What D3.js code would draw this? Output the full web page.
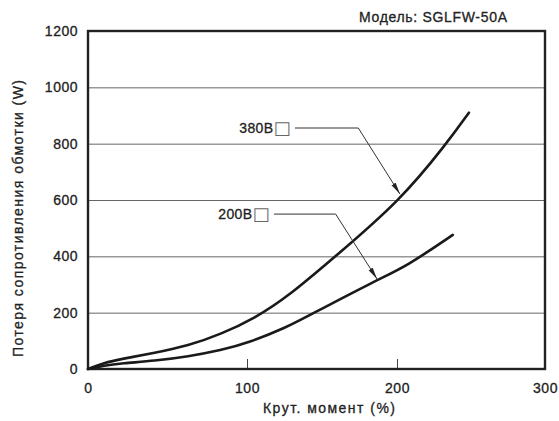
<!DOCTYPE html>
<html>
<head>
<meta charset="utf-8">
<script src="https://cdn.jsdelivr.net/npm/d3@7"></script>
<style>
  body { margin: 0; background: #fff; }
  svg { display: block; }
  text { font-family: "Liberation Sans", Arial, Helvetica, sans-serif; fill: #222; stroke: #222; stroke-width: 0.3px; }
</style>
</head>
<body>
<svg id="chart" width="559" height="421"></svg>
<script>
// Axis ticks
const torqueTicks = [0, 100, 200, 300];
const lossTicks = [0, 200, 400, 600, 800, 1000, 1200];

// Winding resistance loss vs torque, 380 V model
const torque380 = [0, 10, 20.9, 41.9, 62.9, 83.8, 105.1, 127.3, 158.7, 202, 233.6, 248.6];
const loss380   = [0, 22, 35.5, 57, 82, 124, 180, 257, 399, 597, 801, 910];

// Winding resistance loss vs torque, 200 V model
const torque200 = [0, 10, 20.9, 41.9, 62.9, 83.8, 100.6, 127.3, 139.8, 186.5, 206.6, 237.7];
const loss200   = [0, 12, 20, 29, 44, 67, 92, 150, 186, 316, 365, 476];

// Callouts: label, end of label text, leader elbow, arrow tip (data units)
const calloutLabels = ["380В", "200В"];
const calloutMark = "□";
const calloutTextEndX = [129.3, 115.3];
const calloutElbowX = [174.2, 159.1];
const calloutElbowY = [855.6, 550];
const calloutTipX = [202, 186.7];
const calloutTipY = [621, 319.5];

const modelLabel = "Модель: SGLFW-50A";
const xTitle = "Крут. момент (%)";
const yTitle = "Потеря сопротивления обмотки (W)";

const svg = d3.select("#chart");
const plotLeft = 88, plotRight = 545, plotTop = 31, plotBottom = 369;
const fontSize = 14;

const x = d3.scaleLinear().domain(torqueTicks).range([88, 247, 397, 545]);
const y = d3.scaleLinear().domain([0, 1200]).range([plotBottom, plotTop]);

// Horizontal grid + y tick labels
const yAxis = svg.append("g")
  .attr("transform", `translate(${plotLeft},0)`)
  .call(d3.axisLeft(y).tickValues(lossTicks).tickFormat(d3.format("d"))
    .tickSizeInner(-(plotRight - plotLeft)).tickSizeOuter(0).tickPadding(10));
yAxis.select(".domain").remove();
yAxis.selectAll(".tick line").attr("stroke", "#666").attr("stroke-width", 1);
yAxis.selectAll(".tick text").attr("font-size", fontSize).attr("letter-spacing", 0.5)
  .attr("font-family", "Liberation Sans, Arial, sans-serif").attr("fill", "#222");

// Bottom ticks + labels
const xAxis = svg.append("g")
  .attr("transform", `translate(0,${plotBottom})`)
  .call(d3.axisBottom(x).tickValues(torqueTicks).tickFormat(d3.format("d"))
    .tickSizeInner(-10).tickSizeOuter(0).tickPadding(14));
xAxis.select(".domain").remove();
xAxis.selectAll(".tick line").attr("stroke", "#444").attr("stroke-width", 1);
xAxis.selectAll(".tick text").attr("font-size", fontSize).attr("letter-spacing", 0.5)
  .attr("font-family", "Liberation Sans, Arial, sans-serif").attr("fill", "#222");

// Frame
svg.append("rect")
  .attr("x", plotLeft).attr("y", plotTop)
  .attr("width", plotRight - plotLeft).attr("height", plotBottom - plotTop)
  .attr("fill", "none").attr("stroke", "#222").attr("stroke-width", 2.4);

// Curves
const line = d3.line().x(d => x(d[0])).y(d => y(d[1])).curve(d3.curveBasis);
const series = [
  d3.zip(torque380, loss380),
  d3.zip(torque200, loss200)
];
svg.append("g").selectAll("path").data(series).join("path")
  .attr("d", line)
  .attr("fill", "none")
  .attr("stroke", "#1a1a1a")
  .attr("stroke-width", 2.6)
  .attr("stroke-linecap", "round");

// Arrowhead marker
svg.append("defs").append("marker")
  .attr("id", "arrow")
  .attr("markerUnits", "userSpaceOnUse")
  .attr("viewBox", "0 0 12 6")
  .attr("refX", 12).attr("refY", 3)
  .attr("markerWidth", 12).attr("markerHeight", 6)
  .attr("orient", "auto")
  .append("path").attr("d", "M0,0.6 L12,3 L0,5.4 Z").attr("fill", "#222");

// Callouts
calloutLabels.forEach((lab, i) => {
  const ex = x(calloutElbowX[i]), ey = y(calloutElbowY[i]);
  const t = svg.append("text")
    .attr("x", x(calloutTextEndX[i]))
    .attr("y", ey + 5)
    .attr("text-anchor", "end")
    .attr("font-size", fontSize)
    .attr("letter-spacing", 0.4);
  t.append("tspan").text(lab);
  t.append("tspan")
    .attr("font-family", "DejaVu Sans")
    .attr("font-size", 18)
    .attr("fill", "#666")
    .attr("stroke-width", 0)
    .attr("dy", 1)
    .text(calloutMark);
  const bb = t.node().getBBox();
  svg.append("path")
    .attr("d", `M${bb.x + bb.width + 4},${ey} L${ex},${ey} L${x(calloutTipX[i])},${y(calloutTipY[i])}`)
    .attr("fill", "none")
    .attr("stroke", "#333")
    .attr("stroke-width", 1)
    .attr("marker-end", "url(#arrow)");
});

// Titles
svg.append("text")
  .attr("x", 507).attr("y", 22)
  .attr("text-anchor", "end")
  .attr("font-size", fontSize)
  .attr("textLength", 148)
  .attr("lengthAdjust", "spacing")
  .text(modelLabel);

svg.append("text")
  .attr("x", 263).attr("y", 413)
  .attr("font-size", fontSize)
  .attr("textLength", 132)
  .attr("lengthAdjust", "spacing")
  .text(xTitle);

svg.append("text")
  .attr("transform", "translate(23,357) rotate(-90)")
  .attr("font-size", fontSize)
  .attr("textLength", 277)
  .attr("lengthAdjust", "spacing")
  .text(yTitle);
</script>
</body>
</html>
